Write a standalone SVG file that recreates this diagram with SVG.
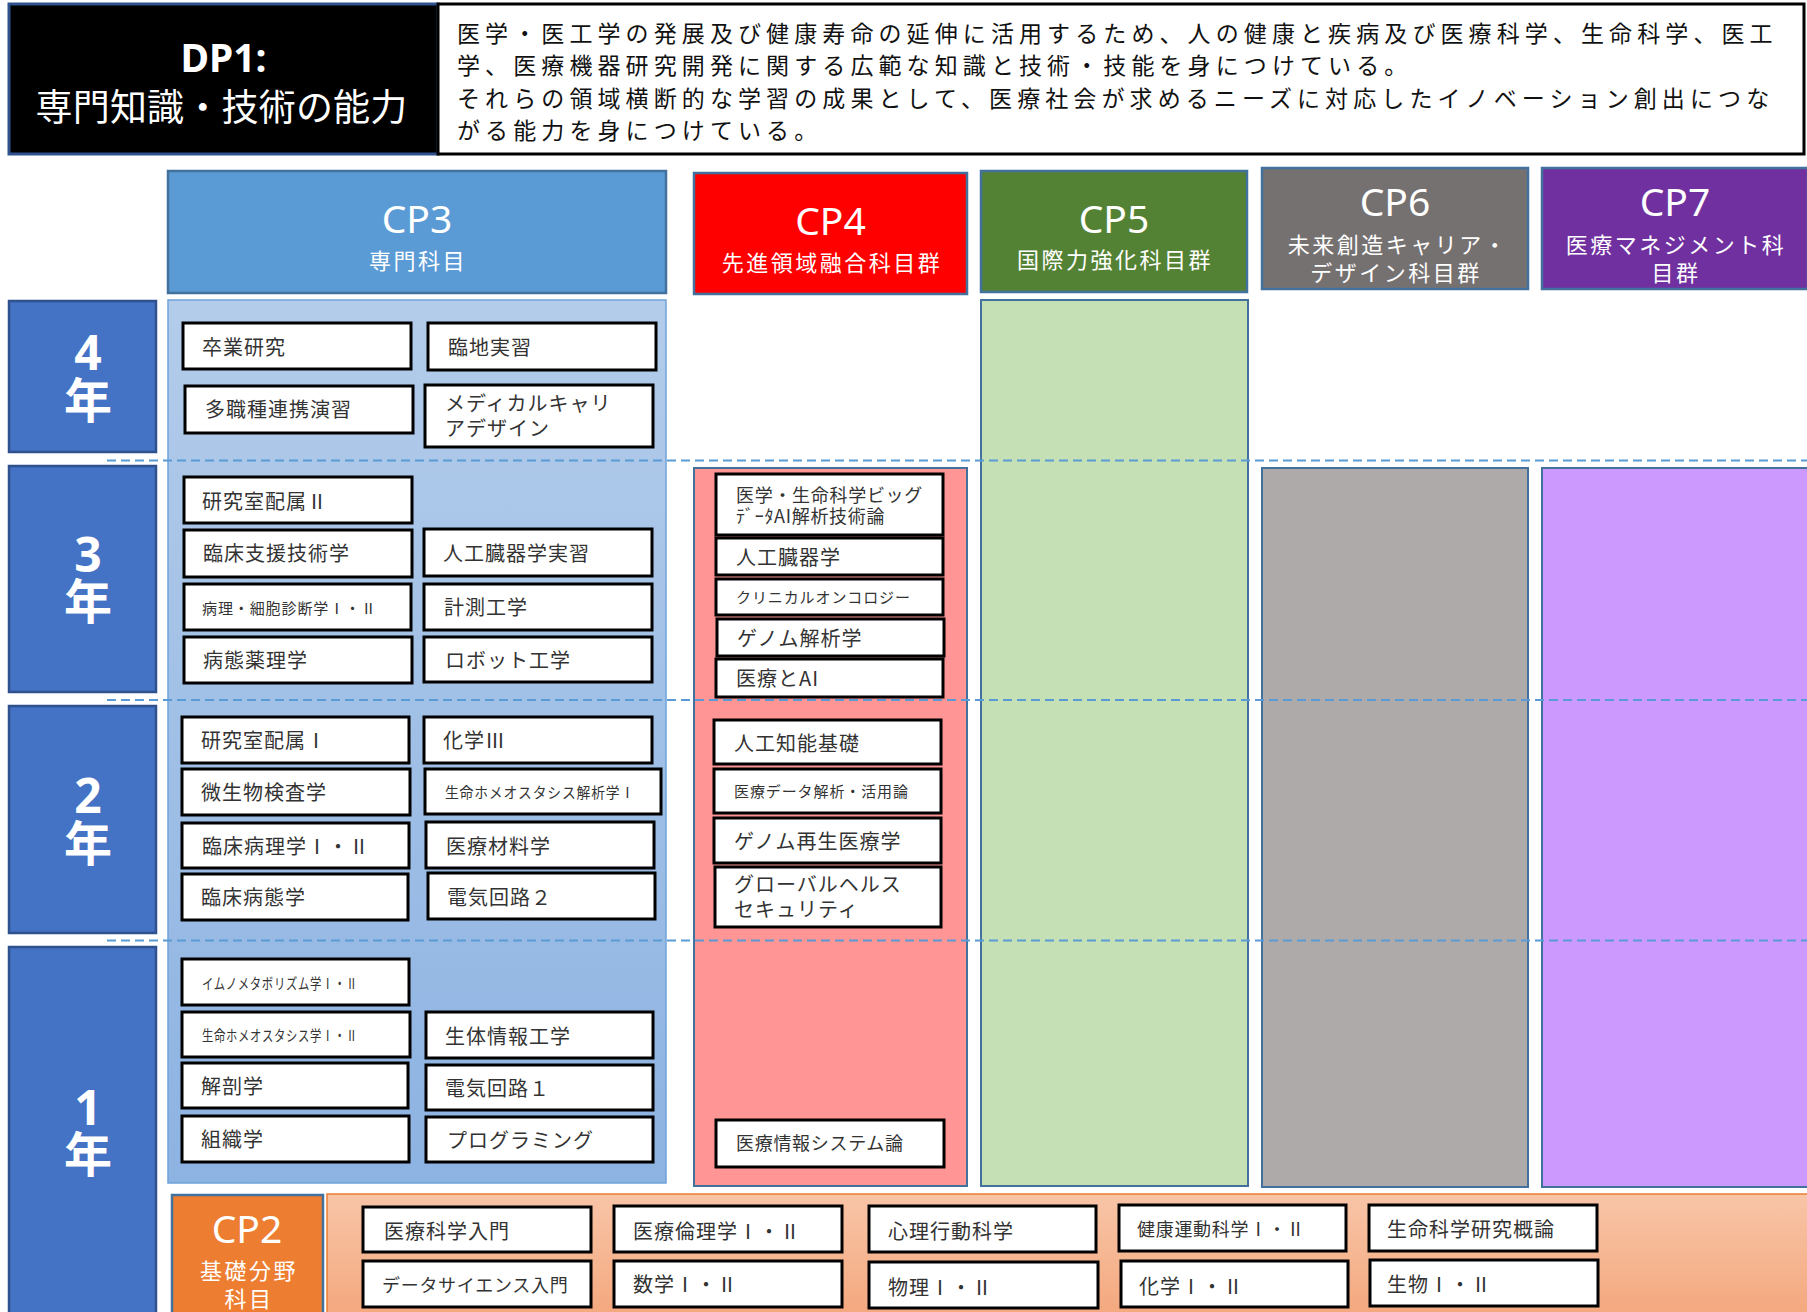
<svg xmlns="http://www.w3.org/2000/svg" width="1807" height="1312" viewBox="0 0 1807 1312">
<defs>
<linearGradient id="gCP3" x1="0" y1="0" x2="0" y2="1"><stop offset="0" stop-color="#B3CCEA"/><stop offset="1" stop-color="#8DB3E2"/></linearGradient>
<linearGradient id="gCP2" x1="0" y1="0" x2="0" y2="1"><stop offset="0" stop-color="#F8C5A7"/><stop offset="1" stop-color="#F4A77D"/></linearGradient>
<style>
.box{fill:#fff;stroke:#000;stroke-width:3}
.jp{font-family:"Noto Sans CJK JP","Noto Sans",sans-serif}
.t{font-family:"Noto Sans CJK JP",sans-serif;font-size:20px;fill:#333;letter-spacing:1px;dominant-baseline:central}
.f18{font-size:18px;letter-spacing:0.7px}
.f15{font-size:15px;letter-spacing:0.9px}
.cp{font-family:"Noto Sans","Noto Sans CJK JP",sans-serif;font-size:39px;fill:#fff;text-anchor:middle}
.sub{font-family:"Noto Sans CJK JP",sans-serif;font-size:22px;fill:#fff;letter-spacing:2.5px;text-anchor:middle;dominant-baseline:central}
.yr{font-family:"Noto Sans","Noto Sans CJK JP",sans-serif;font-size:48px;font-weight:bold;fill:#fff;text-anchor:middle}
.yrbox{fill:#4472C4;stroke:#2F528F;stroke-width:2.5}
.hdr{stroke:#41719C;stroke-width:2.5}
.body{stroke:#41719C;stroke-width:2}
.desc{font-family:"Noto Sans CJK JP",sans-serif;font-size:23px;fill:#111;letter-spacing:5.1px;dominant-baseline:central}
.dash{stroke:#5B9BD5;stroke-width:2;stroke-dasharray:9 5;fill:none}
</style>
</defs>

<g id="dp1">
<rect x="9" y="4" width="429" height="150" fill="#000" stroke="#2F528F" stroke-width="3"/>
<text x="223.5" y="72" text-anchor="middle" font-family="Noto Sans, sans-serif" font-weight="bold" font-size="39" fill="#fff">DP1:</text>
<text x="221.5" y="105" text-anchor="middle" class="jp" font-size="37" fill="#fff" letter-spacing="0.2" dominant-baseline="central">専門知識・技術の能力</text>
</g>
<g id="dp1-desc">
<rect x="438" y="4" width="1366" height="150" fill="#fff" stroke="#000" stroke-width="3"/>
<text class="desc" x="457" y="32.4">医学・医工学の発展及び健康寿命の延伸に活用するため、人の健康と疾病及び医療科学、生命科学、医工</text>
<text class="desc" x="457" y="64.2">学、医療機器研究開発に関する広範な知識と技術・技能を身につけている。</text>
<text class="desc" x="457" y="97">それらの領域横断的な学習の成果として、医療社会が求めるニーズに対応したイノベーション創出につな</text>
<text class="desc" x="457" y="129.2">がる能力を身につけている。</text>
</g>

<g id="cp3-header">
<rect class="hdr" x="168" y="171" width="498" height="122" fill="#5B9BD5"/>
<text class="cp" x="417" y="233">CP3</text>
<text class="sub" x="418" y="259">専門科目</text>
</g>
<g id="cp4-header">
<rect class="hdr" x="694" y="173" width="273" height="121" fill="#FF0000"/>
<text class="cp" x="830.5" y="235">CP4</text>
<text class="sub" x="832" y="261">先進領域融合科目群</text>
</g>
<g id="cp5-header">
<rect class="hdr" x="981" y="171" width="266" height="121" fill="#548235"/>
<text class="cp" x="1114" y="233">CP5</text>
<text class="sub" x="1115" y="258">国際力強化科目群</text>
</g>
<g id="cp6-header">
<rect class="hdr" x="1262" y="168" width="266" height="121" fill="#767171"/>
<text class="cp" x="1395" y="216">CP6</text>
<text class="sub" x="1398" y="242.5">未来創造キャリア・</text>
<text class="sub" x="1396" y="271">デザイン科目群</text>
</g>
<g id="cp7-header">
<rect class="hdr" x="1542" y="168" width="266" height="121" fill="#7030A0"/>
<text class="cp" x="1675" y="216">CP7</text>
<text class="sub" x="1676" y="242.5">医療マネジメント科</text>
<text class="sub" x="1676" y="271">目群</text>
</g>

<g id="year4">
<rect class="yrbox" x="9" y="301" width="147" height="151"/>
<text class="yr" x="88"><tspan x="88" y="370">4</tspan><tspan x="88" y="418">年</tspan></text>
</g>
<g id="year3">
<rect class="yrbox" x="9" y="466" width="147" height="226"/>
<text class="yr" x="88"><tspan x="88" y="572">3</tspan><tspan x="88" y="619">年</tspan></text>
</g>
<g id="year2">
<rect class="yrbox" x="9" y="706" width="147" height="227"/>
<text class="yr" x="88"><tspan x="88" y="813">2</tspan><tspan x="88" y="861">年</tspan></text>
</g>
<g id="year1">
<rect class="yrbox" x="9" y="947" width="147" height="380"/>
<text class="yr" x="88"><tspan x="88" y="1125">1</tspan><tspan x="88" y="1172">年</tspan></text>
</g>

<g id="cp3-body"><rect x="168" y="300" width="498" height="883" fill="url(#gCP3)" stroke="#6FA3DA" stroke-width="1.5"/></g>
<g id="cp4-body"><rect class="body" x="694" y="468" width="273" height="718" fill="#FF9595"/></g>
<g id="cp5-body"><rect class="body" x="981" y="300" width="267" height="886" fill="#C5E0B4"/></g>
<g id="cp6-body"><rect class="body" x="1262" y="468" width="266" height="719" fill="#AEAAAA"/></g>
<g id="cp7-body"><rect class="body" x="1542" y="468" width="266" height="719" fill="#CC99FF"/></g>

<g id="cp2">
<rect x="327" y="1194" width="1481" height="125" fill="url(#gCP2)" stroke="#ED7D31" stroke-width="1.5"/>
<rect class="hdr" x="172" y="1195" width="151" height="125" fill="#ED7D31"/>
<text class="cp" x="247" y="1243" font-size="41">CP2</text>
<text class="sub" x="249" y="1269" letter-spacing="3.7">基礎分野</text>
<text class="sub" x="249" y="1297" letter-spacing="3.7">科目</text>
</g>

<g id="connectors">
<line class="dash" x1="107" y1="460.5" x2="1807" y2="460.5"/>
<line class="dash" x1="107" y1="700" x2="1807" y2="700"/>
<line class="dash" x1="107" y1="940.5" x2="1807" y2="940.5"/>
</g>

<g id="cp3-courses">
<g id="c-sotsugyo"><rect class="box" x="183" y="323" width="228" height="46"/><text class="t" x="202" y="346">卒業研究</text></g>
<g id="c-rinchi"><rect class="box" x="428" y="323" width="228" height="47"/><text class="t" x="448" y="346">臨地実習</text></g>
<g id="c-tashoku"><rect class="box" x="185" y="386" width="228" height="47"/><text class="t" x="205" y="408">多職種連携演習</text></g>
<g id="c-medcareer"><rect class="box" x="425" y="385" width="228" height="62"/><text class="t" x="445" y="402">メディカルキャリ</text><text class="t" x="445" y="427">アデザイン</text></g>
<g id="c-kenkyu2"><rect class="box" x="184" y="477" width="228" height="46"/><text class="t" x="202" y="500">研究室配属Ⅱ</text></g>
<g id="c-rinsho-shien"><rect class="box" x="184" y="530" width="228" height="47"/><text class="t" x="203" y="552">臨床支援技術学</text></g>
<g id="c-jinko-jisshu"><rect class="box" x="424" y="529" width="228" height="47"/><text class="t" x="443" y="552">人工臓器学実習</text></g>
<g id="c-byori"><rect class="box" x="184" y="584" width="227" height="46"/><text class="t f15" x="202" y="607">病理・細胞診断学Ⅰ・Ⅱ</text></g>
<g id="c-keisoku"><rect class="box" x="424" y="584" width="228" height="46"/><text class="t" x="444" y="606">計測工学</text></g>
<g id="c-byotai-yakuri"><rect class="box" x="184" y="637" width="228" height="46"/><text class="t" x="203" y="659">病態薬理学</text></g>
<g id="c-robot"><rect class="box" x="424" y="637" width="228" height="45"/><text class="t" x="445" y="659">ロボット工学</text></g>
<g id="c-kenkyu1"><rect class="box" x="182" y="717" width="227" height="46"/><text class="t" x="201" y="739">研究室配属Ⅰ</text></g>
<g id="c-kagaku3"><rect class="box" x="424" y="717" width="228" height="46"/><text class="t" x="443" y="739">化学Ⅲ</text></g>
<g id="c-biseibutsu"><rect class="box" x="182" y="769" width="228" height="46"/><text class="t" x="201" y="791">微生物検査学</text></g>
<g id="c-homeo-kaiseki"><rect class="box" x="425" y="769" width="236" height="45"/><text class="t f15" x="445" y="791" textLength="190" lengthAdjust="spacingAndGlyphs">生命ホメオスタシス解析学Ⅰ</text></g>
<g id="c-rinsho-byori"><rect class="box" x="182" y="823" width="227" height="45"/><text class="t" x="202" y="845.5">臨床病理学Ⅰ・Ⅱ</text></g>
<g id="c-iryo-zairyo"><rect class="box" x="426" y="822" width="228" height="46"/><text class="t" x="446" y="845">医療材料学</text></g>
<g id="c-rinsho-byotai"><rect class="box" x="182" y="874" width="226" height="46"/><text class="t" x="201" y="896">臨床病態学</text></g>
<g id="c-denki2"><rect class="box" x="428" y="873" width="227" height="46"/><text class="t" x="447" y="896">電気回路２</text></g>
<g id="c-immuno"><rect class="box" x="182" y="959" width="227" height="46"/><text class="t f15" x="202" y="982" textLength="156" lengthAdjust="spacingAndGlyphs">イムノメタボリズム学Ⅰ・Ⅱ</text></g>
<g id="c-homeo"><rect class="box" x="182" y="1012" width="228" height="45"/><text class="t f15" x="202" y="1034" font-size="14" textLength="156" lengthAdjust="spacingAndGlyphs">生命ホメオスタシス学Ⅰ・Ⅱ</text></g>
<g id="c-seitai"><rect class="box" x="426" y="1012" width="227" height="46"/><text class="t" x="445" y="1035">生体情報工学</text></g>
<g id="c-kaibo"><rect class="box" x="182" y="1063" width="226" height="45"/><text class="t" x="201" y="1085">解剖学</text></g>
<g id="c-denki1"><rect class="box" x="426" y="1065" width="227" height="45"/><text class="t" x="445" y="1087">電気回路１</text></g>
<g id="c-soshiki"><rect class="box" x="182" y="1116" width="227" height="46"/><text class="t" x="201" y="1138">組織学</text></g>
<g id="c-programming"><rect class="box" x="426" y="1117" width="227" height="45"/><text class="t" x="447" y="1139">プログラミング</text></g>
</g>

<g id="cp4-courses">
<g id="c-bigdata"><rect class="box" x="716" y="474" width="227" height="61"/><text class="t f18" x="736" y="493.5" letter-spacing="0.5">医学・生命科学ビッグ</text><text class="t f18" x="736" y="515" letter-spacing="0.5">ﾃﾞｰﾀAI解析技術論</text></g>
<g id="c-jinko-zoki"><rect class="box" x="716" y="538" width="227" height="37"/><text class="t" x="736" y="556.5">人工臓器学</text></g>
<g id="c-oncology"><rect class="box" x="716" y="579" width="227" height="36"/><text class="t f15" x="736" y="596.5">クリニカルオンコロジー</text></g>
<g id="c-genome-kaiseki"><rect class="box" x="717" y="619" width="227" height="37"/><text class="t" x="737" y="637">ゲノム解析学</text></g>
<g id="c-iryo-ai"><rect class="box" x="716" y="659" width="227" height="38"/><text class="t" x="736" y="677.5">医療とAI</text></g>
<g id="c-jinko-chino"><rect class="box" x="714" y="720" width="227" height="44"/><text class="t" x="734" y="742">人工知能基礎</text></g>
<g id="c-iryo-data"><rect class="box" x="714" y="769" width="227" height="44"/><text class="t f15" x="734" y="790.5">医療データ解析・活用論</text></g>
<g id="c-genome-saisei"><rect class="box" x="714" y="818" width="227" height="45"/><text class="t" x="734" y="840">ゲノム再生医療学</text></g>
<g id="c-global"><rect class="box" x="715" y="867" width="226" height="60"/><text class="t" x="734" y="883">グローバルヘルス</text><text class="t" x="734" y="908.5">セキュリティ</text></g>
<g id="c-iryo-joho"><rect class="box" x="716" y="1120" width="228" height="47"/><text class="t f18" x="736" y="1142" letter-spacing="0.75">医療情報システム論</text></g>
</g>

<g id="cp2-courses">
<g id="c-iryo-kagaku"><rect class="box" x="363" y="1207" width="228" height="45"/><text class="t" x="384" y="1230">医療科学入門</text></g>
<g id="c-data-science"><rect class="box" x="363" y="1261" width="228" height="46"/><text class="t f18" x="382" y="1283.5" letter-spacing="0.8">データサイエンス入門</text></g>
<g id="c-rinri"><rect class="box" x="614" y="1206" width="228" height="46"/><text class="t" x="633" y="1230">医療倫理学Ⅰ・Ⅱ</text></g>
<g id="c-sugaku"><rect class="box" x="614" y="1261" width="228" height="46"/><text class="t" x="633" y="1283.5">数学Ⅰ・Ⅱ</text></g>
<g id="c-shinri"><rect class="box" x="869" y="1206" width="227" height="46"/><text class="t" x="888" y="1230">心理行動科学</text></g>
<g id="c-butsuri"><rect class="box" x="869" y="1262" width="229" height="46"/><text class="t" x="888" y="1286">物理Ⅰ・Ⅱ</text></g>
<g id="c-kenko"><rect class="box" x="1119" y="1205" width="227" height="46"/><text class="t f18" x="1137" y="1228" letter-spacing="0.6">健康運動科学Ⅰ・Ⅱ</text></g>
<g id="c-kagaku12"><rect class="box" x="1121" y="1261" width="227" height="46"/><text class="t" x="1139" y="1285">化学Ⅰ・Ⅱ</text></g>
<g id="c-seimei-gairon"><rect class="box" x="1369" y="1205" width="228" height="46"/><text class="t" x="1387" y="1228">生命科学研究概論</text></g>
<g id="c-seibutsu"><rect class="box" x="1370" y="1260" width="228" height="46"/><text class="t" x="1387" y="1283">生物Ⅰ・Ⅱ</text></g>
</g>
</svg>
